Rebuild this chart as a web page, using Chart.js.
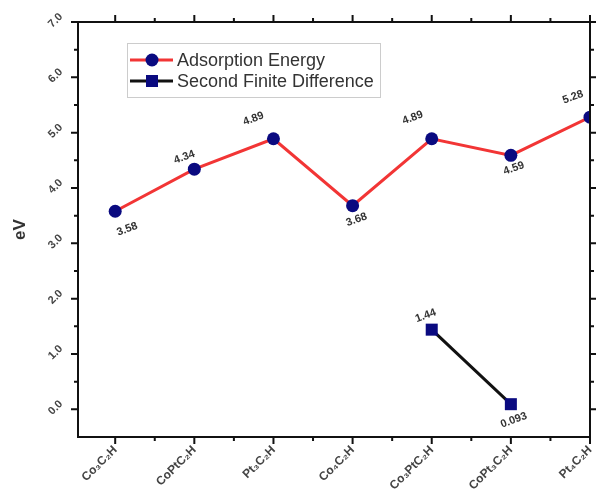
<!DOCTYPE html>
<html lang="en">
  <head>
    <meta charset="UTF-8" />
    <title>Adsorption Energy</title>
    <style>
      body { margin: 0; background: #fff; }
    </style>
  </head>
  <body>
    <canvas id="lienzo" width="599" height="495"></canvas>
    <script src="https://cdn.jsdelivr.net/npm/chart.js"></script>
    <script>
      // data
      const categorias = ["Co₃C₂H", "CoPtC₂H", "Pt₃C₂H", "Co₄C₂H", "Co₃PtC₂H", "CoPt₃C₂H", "Pt₄C₂H"];
      const adsorcion = [3.58, 4.34, 4.89, 3.68, 4.89, 4.59, 5.28];
      const diferencia = [null, null, null, null, 1.44, 0.093, null];
      const ticksY = [0, 1, 2, 3, 4, 5, 6, 7];

      // where the value labels sit relative to their point
      const offsetsAdsorcion = [[12, 18], [-10, -12], [-20, -20], [4, 14], [-19, -21], [3, 13], [-17, -20]];
      const offsetsDiferencia = [null, null, null, null, [-6, -14], [3, 16], null];

      const fuente = "'Liberation Sans', Arial, sans-serif";

      const etiquetas = {
        id: "etiquetas",
        afterDatasetsDraw(chart) {
          const ctx = chart.ctx;
          const listas = [offsetsAdsorcion, offsetsDiferencia];
          ctx.save();
          ctx.font = "bold 11px " + fuente;
          ctx.fillStyle = "#333";
          ctx.textAlign = "center";
          ctx.textBaseline = "middle";
          chart.data.datasets.forEach((ds, d) => {
            const meta = chart.getDatasetMeta(d);
            meta.data.forEach((p, i) => {
              const v = ds.data[i].y;
              if (v === null || v === undefined) return;
              const off = listas[d][i];
              ctx.save();
              ctx.translate(p.x + off[0], p.y + off[1]);
              ctx.rotate(-20 * Math.PI / 180);
              ctx.fillText(String(v), 0, 0);
              ctx.restore();
            });
          });
          ctx.restore();
        },
      };

      const marco = {
        id: "marco",
        afterDatasetsDraw(chart) {
          const { ctx, chartArea: a, scales } = chart;
          const x = scales.x, y = scales.y;
          ctx.save();
          ctx.strokeStyle = "#111";
          ctx.lineWidth = 2;
          ctx.strokeRect(a.left, a.top, a.right - a.left, a.bottom - a.top);
          ctx.beginPath();
          for (let i = 0; i < categorias.length; i++) {
            const px = x.getPixelForValue(i);
            ctx.moveTo(px, a.bottom); ctx.lineTo(px, a.bottom + 7);
            ctx.moveTo(px, a.top); ctx.lineTo(px, a.top - 7);
            if (i + 0.5 <= x.max) {
              const pm = x.getPixelForValue(i + 0.5);
              ctx.moveTo(pm, a.bottom); ctx.lineTo(pm, a.bottom + 4);
              ctx.moveTo(pm, a.top); ctx.lineTo(pm, a.top - 4);
            }
          }
          ticksY.forEach((v) => {
            const py = y.getPixelForValue(v);
            ctx.moveTo(a.left, py); ctx.lineTo(a.left - 7, py);
            ctx.moveTo(a.right, py); ctx.lineTo(a.right + 6, py);
            if (v + 0.5 < y.max) {
              const pm = y.getPixelForValue(v + 0.5);
              ctx.moveTo(a.left, pm); ctx.lineTo(a.left - 4, pm);
              ctx.moveTo(a.right, pm); ctx.lineTo(a.right + 4, pm);
            }
          });
          ctx.stroke();
          ctx.restore();
        },
      };

      const leyenda = {
        id: "leyenda",
        afterDraw(chart) {
          const ctx = chart.ctx;
          ctx.save();
          ctx.fillStyle = "#fff";
          ctx.fillRect(127, 43, 253, 54);
          ctx.strokeStyle = "#ccc";
          ctx.lineWidth = 1;
          ctx.strokeRect(127.5, 43.5, 253, 54);
          chart.data.datasets.forEach((ds, d) => {
            const yy = 60 + d * 21;
            ctx.strokeStyle = ds.borderColor;
            ctx.lineWidth = 3;
            ctx.beginPath();
            ctx.moveTo(130, yy);
            ctx.lineTo(173, yy);
            ctx.stroke();
            ctx.fillStyle = ds.pointBackgroundColor;
            if (ds.pointStyle === "rect") {
              ctx.fillRect(146, yy - 6, 12, 12);
            } else {
              ctx.beginPath();
              ctx.arc(152, yy, 6.5, 0, Math.PI * 2);
              ctx.fill();
            }
            ctx.fillStyle = "#333";
            ctx.font = "18px " + fuente;
            ctx.textBaseline = "middle";
            ctx.fillText(ds.label, 177, yy + 1);
          });
          ctx.restore();
        },
      };

      const grafico = new Chart(document.querySelector("#lienzo"), {
        type: "line",
        data: {
          datasets: [
            {
              label: "Adsorption Energy",
              data: adsorcion.map((v, i) => ({ x: i, y: v })),
              borderColor: "#f23535",
              borderWidth: 3,
              pointStyle: "circle",
              pointRadius: 6.5,
              pointBackgroundColor: "#0a0a80",
              pointBorderColor: "#0a0a80",
              pointBorderWidth: 0,
              clip: 0,
            },
            {
              label: "Second Finite Difference",
              data: diferencia.map((v, i) => ({ x: i, y: v })),
              borderColor: "#111",
              borderWidth: 3,
              pointStyle: "rect",
              pointRadius: 8.5,
              pointBackgroundColor: "#0a0a80",
              pointBorderColor: "#0a0a80",
              pointBorderWidth: 0,
            },
          ],
        },
        options: {
          responsive: false,
          animation: false,
          layout: { padding: { top: 22, right: 9, left: 0, bottom: 0 } },
          plugins: { legend: { display: false }, tooltip: { enabled: false } },
          scales: {
            x: {
              type: "linear",
              min: -0.47,
              max: 6,
              grid: { display: false, drawTicks: false },
              border: { display: false },
              afterBuildTicks: (s) => { s.ticks = categorias.map((c, i) => ({ value: i })); },
              afterFit: (s) => { s.height = 58; s.paddingLeft = 0; s.paddingRight = 0; },
              ticks: {
                autoSkip: false,
                minRotation: 45,
                maxRotation: 45,
                padding: 6,
                color: "#444",
                font: { family: fuente, size: 12, weight: "bold" },
                callback: (v) => categorias[v] ?? "",
              },
            },
            y: {
              min: -0.5,
              max: 7,
              grid: { display: false, drawTicks: false },
              border: { display: false },
              afterBuildTicks: (s) => { s.ticks = ticksY.map((v) => ({ value: v })); },
              afterFit: (s) => { s.width = 78; s.paddingTop = 0; s.paddingBottom = 0; },
              title: {
                display: true,
                text: "eV",
                color: "#333",
                font: { family: fuente, size: 17, weight: "bold" },
                padding: { top: 10, bottom: 6 },
              },
              ticks: {
                minRotation: 45,
                maxRotation: 45,
                labelOffset: -7,
                padding: 17,
                color: "#444",
                font: { family: fuente, size: 11, weight: "bold" },
                callback: (v) => v.toFixed(1),
              },
            },
          },
        },
        plugins: [marco, etiquetas, leyenda],
      });
    </script>
  </body>
</html>
